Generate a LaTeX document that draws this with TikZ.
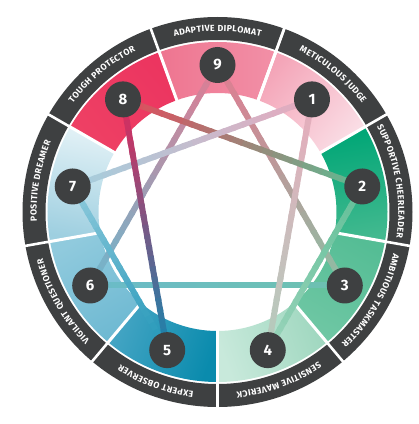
\documentclass[tikz,border=0pt]{standalone}
\usepackage{fontspec}
\newfontfamily\labfont{Fira Sans}
\usetikzlibrary{calc}
\definecolor{ringdark}{HTML}{3E4041}
\definecolor{s9a}{HTML}{EE7590}\definecolor{s9b}{HTML}{F290A7}
\definecolor{s1a}{HTML}{F4A5B8}\definecolor{s1b}{HTML}{FADDE5}
\definecolor{s2a}{HTML}{00A676}\definecolor{s2b}{HTML}{42B98F}
\definecolor{s3a}{HTML}{55BD95}\definecolor{s3b}{HTML}{6FC7A4}
\definecolor{s4a}{HTML}{9FD7BF}\definecolor{s4b}{HTML}{C8E9DB}
\definecolor{s5a}{HTML}{0A8BAD}\definecolor{s5b}{HTML}{45A5C4}
\definecolor{s6a}{HTML}{6EB9D2}\definecolor{s6b}{HTML}{90CADD}
\definecolor{s7a}{HTML}{9ECFE0}\definecolor{s7b}{HTML}{E2F1F6}
\definecolor{s8a}{HTML}{EE4064}\definecolor{s8b}{HTML}{EC3560}
\newcommand\labtxt{\labfont\bfseries\fontsize{8.8pt}{10pt}\selectfont}
\newcommand\enline[4]{%
  \foreach \k in {0,...,23}{%
    \pgfmathsetmacro\pa{\k/24}%
    \pgfmathsetmacro\pb{min(1,(\k+1.3)/24)}%
    \pgfmathtruncatemacro\pc{100-100*(\k+0.5)/24}%
    \draw[edgeline, color=#3!\pc!#4] ($(#1)!\pa!(#2)$) -- ($(#1)!\pb!(#2)$);
  }}
\newcommand\placechar[3]{\node[charnode, rotate=#1-90] at (#1:#2) {#3};}
\ExplSyntaxOn
\dim_new:N \l_arc_total_dim
\dim_new:N \l_arc_acc_dim
\dim_new:N \l_arc_track_dim
\dim_set:Nn \l_arc_track_dim {0.35pt}
\box_new:N \l_arc_box
\tl_new:N \g_arc_nodes_tl
\NewDocumentCommand \arclabel { m m m }
 {
   \dim_zero:N \l_arc_total_dim
   \str_map_inline:nn {#3}
     {
       \hbox_set:Nn \l_arc_box { \labtxt ##1 }
       \dim_add:Nn \l_arc_total_dim { \box_wd:N \l_arc_box + \l_arc_track_dim }
     }
   \dim_sub:Nn \l_arc_total_dim { \l_arc_track_dim }
   \dim_zero:N \l_arc_acc_dim
   \str_map_inline:nn {#3}
     {
       \hbox_set:Nn \l_arc_box { \labtxt ##1 }
       \tl_gput_right:Nx \g_arc_nodes_tl
         {
           \exp_not:N \placechar
           { \fp_eval:n { #1 + ( \dim_to_fp:n { \l_arc_total_dim } / 2
               - \dim_to_fp:n { \l_arc_acc_dim }
               - \dim_to_fp:n { \box_wd:N \l_arc_box } / 2 ) / #2 * 180 / pi } }
           {#2} {##1}
         }
       \dim_add:Nn \l_arc_acc_dim { \box_wd:N \l_arc_box + \l_arc_track_dim }
     }
 }
\NewDocumentCommand \arcnodes { } { \tl_use:N \g_arc_nodes_tl }
\ExplSyntaxOff
\tikzset{
  edgeline/.style={line width=6pt, line cap=butt},
  numnode/.style={circle, fill=ringdark, minimum size=36pt, inner sep=0pt,
    text=white, font=\labfont\bfseries\fontsize{15pt}{15pt}\selectfont},
  charnode/.style={anchor=base, inner sep=0pt, text=white, font=\labtxt},
  sep/.style={white, line width=2.6pt}
}
\begin{document}
\arclabel{90}{180.8}{ADAPTIVE DIPLOMAT}%
\arclabel{50}{180.8}{METICULOUS JUDGE}%
\arclabel{10}{180.8}{SUPPORTIVE CHEERLEADER}%
\arclabel{-30}{180.8}{AMBITIOUS TASKMASTER}%
\arclabel{-70}{180.8}{SENSITIVE MAVERICK}%
\arclabel{-110}{180.8}{EXPERT OBSERVER}%
\arclabel{-150}{180.8}{VIGILANT QUESTIONER}%
\arclabel{170}{180.8}{POSITIVE DREAMER}%
\arclabel{130}{180.8}{TOUGH PROTECTOR}%
\begin{tikzpicture}[x=1pt,y=1pt]
\useasboundingbox (0,0) rectangle (419,424);
\fill[white] (0,0) rectangle (419,424);
\begin{scope}[shift={(217.5,212)}]
  % dark outer ring
  \fill[ringdark, even odd rule] (0,0) circle[radius=195] (0,0) circle[radius=172];
  \foreach \a in {70,110,...,430} \draw[sep] (\a:171) -- (\a:196);
  % coloured segments
  \foreach \t/\ca/\cb in {90/s9a/s9b, 50/s1a/s1b, 10/s2a/s2b, -30/s3a/s3b,
      -70/s4a/s4b, -110/s5a/s5b, -150/s6a/s6b, 170/s7a/s7b, 130/s8a/s8b}{
    \pgfmathsetmacro\tA{\t+20}\pgfmathsetmacro\tB{\t-20}
    \path[top color=\ca, bottom color=\cb, shading angle=\t]
      (\tA:170) arc[start angle=\tA, end angle=\tB, radius=170]
      -- (\tB:119) arc[start angle=\tB, end angle=\tA, radius=119] -- cycle;
  }
  \foreach \a in {70,110,...,430} \draw[white, line width=3pt] (\a:117) -- (\a:171.5);
  % labels in the dark ring (one node per letter, along the arc)
  \arcnodes
  % point coordinates
  \foreach \n/\t in {9/90, 1/50, 2/10, 3/-30, 4/-70, 5/-110, 6/-150, 7/170, 8/130}
    \coordinate (p\n) at (\t:147);
  % triangle
  \definecolor{a9}{HTML}{E27A91}\definecolor{a3}{HTML}{8DBFA4}\definecolor{a6}{HTML}{6DB7CD}
  \enline{p9}{p3}{a9}{a3}
  \enline{p9}{p6}{a9}{a6}
  \definecolor{l3}{HTML}{6DC1AF}\definecolor{l6}{HTML}{6BBBC9}
  \enline{p3}{p6}{l3}{l6}
  % hexad
  \definecolor{h1}{HTML}{E8ABBC}\definecolor{h4}{HTML}{B2CCBC}
  \enline{p1}{p4}{h1}{h4}
  \definecolor{h2}{HTML}{5CBD93}\definecolor{h8}{HTML}{E24A5C}
  \enline{p2}{p8}{h2}{h8}
  \definecolor{h7}{HTML}{A3CFDE}\definecolor{h1b}{HTML}{E6A9BD}
  \enline{p7}{p1}{h7}{h1b}
  \definecolor{h8b}{HTML}{E2285A}\definecolor{h5}{HTML}{1686AE}
  \enline{p8}{p5}{h8b}{h5}
  \definecolor{h5b}{HTML}{2196B8}\definecolor{h7b}{HTML}{8FCADC}
  \enline{p5}{p7}{h5b}{h7b}
  \definecolor{h4b}{HTML}{9AD4BB}\definecolor{h2b}{HTML}{62BF98}
  \enline{p4}{p2}{h4b}{h2b}
  % number nodes
  \foreach \n in {1,...,9} \node[numnode] (n\n) at (p\n) {\n};
\end{scope}
\end{tikzpicture}
\end{document}
